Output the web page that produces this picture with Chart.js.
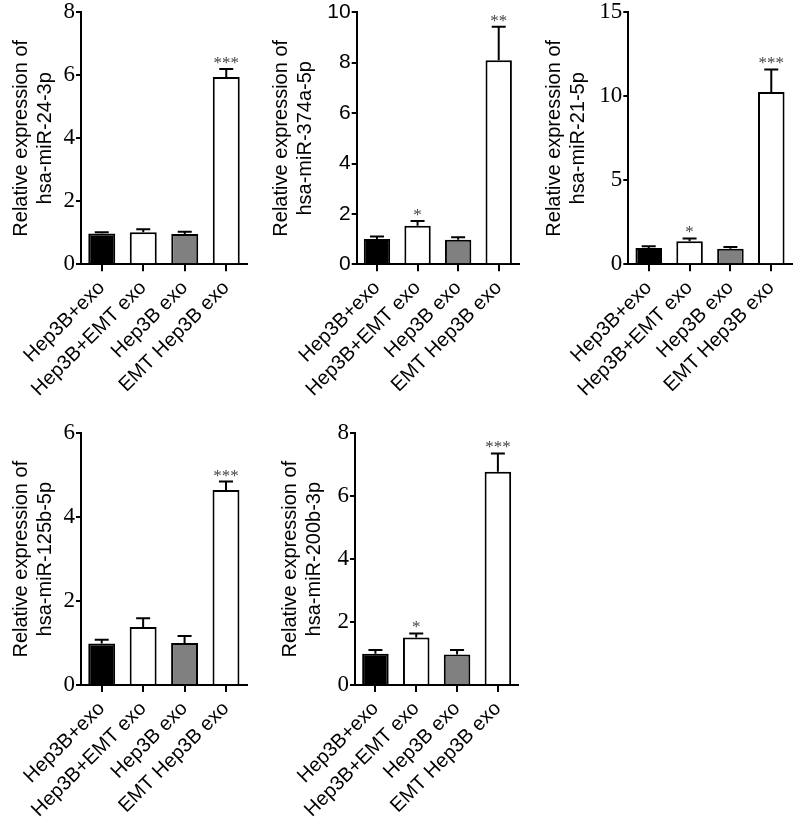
<!DOCTYPE html>
<html>
<head>
<meta charset="utf-8">
<script src="https://cdn.jsdelivr.net/npm/chart.js"></script>
<style>
  body { margin: 0; background: #fff; width: 800px; height: 829px; position: relative; overflow: hidden; }
  canvas { position: absolute; }
</style>
</head>
<body>
<canvas id="c1"></canvas>
<canvas id="c2"></canvas>
<canvas id="c3"></canvas>
<canvas id="c4"></canvas>
<canvas id="c5"></canvas>
<script>
// groups + bar fills
var groups = ["Hep3B+exo", "Hep3B+EMT exo", "Hep3B exo", "EMT Hep3B exo"];
var barColors = ["#000000", "#ffffff", "#808080", "#ffffff"];

// hsa-miR-24-3p
var mir24Mean = [0.98, 1.02, 0.96, 5.95];
var mir24Err = [0.04, 0.09, 0.07, 0.25];
var mir24Stars = ["", "", "", "***"];
var mir24Ticks = [0, 2, 4, 6, 8];

// hsa-miR-374a-5p
var mir374Mean = [1.0, 1.53, 0.97, 8.1];
var mir374Err = [0.1, 0.19, 0.1, 1.33];
var mir374Stars = ["", "*", "", "**"];
var mir374Ticks = [0, 2, 4, 6, 8, 10];

// hsa-miR-21-5p
var mir21Mean = [0.97, 1.37, 0.93, 10.26];
var mir21Err = [0.1, 0.17, 0.1, 1.34];
var mir21Stars = ["", "*", "", "***"];
var mir21Ticks = [0, 5, 10, 15];

// hsa-miR-125b-5p
var mir125Mean = [0.99, 1.38, 1.0, 4.65];
var mir125Err = [0.09, 0.21, 0.17, 0.2];
var mir125Stars = ["", "", "", "***"];
var mir125Ticks = [0, 2, 4, 6];

// hsa-miR-200b-3p
var mir200Mean = [0.99, 1.51, 0.97, 6.78];
var mir200Err = [0.12, 0.13, 0.14, 0.58];
var mir200Stars = ["", "*", "", "***"];
var mir200Ticks = [0, 2, 4, 6, 8];

// error bars (upper only) + significance marks
var errorBars = {
  id: 'errorBars',
  afterDatasetsDraw: function(chart, args, opts) {
    var ctx = chart.ctx, ys = chart.scales.y;
    var vals = chart.data.datasets[0].data;
    ctx.save();
    ctx.strokeStyle = '#000';
    ctx.lineWidth = 2;
    chart.getDatasetMeta(0).data.forEach(function(bar, i) {
      var top = ys.getPixelForValue(vals[i] + opts.err[i]);
      ctx.beginPath();
      ctx.moveTo(bar.x, bar.y);
      ctx.lineTo(bar.x, top);
      ctx.moveTo(bar.x - 7, top);
      ctx.lineTo(bar.x + 7, top);
      ctx.stroke();
      if (opts.stars[i]) {
        ctx.fillStyle = '#444';
        ctx.font = '17px "Liberation Serif"';
        ctx.textAlign = 'center';
        ctx.textBaseline = 'alphabetic';
        ctx.fillText(opts.stars[i], bar.x, top - 1);
      }
    });
    ctx.restore();
  }
};

function panel(id, box, name, mean, err, stars, ticks, tickFamily, tickSize) {
  var cv = document.getElementById(id);
  cv.width = box.w; cv.height = box.h;
  cv.style.left = box.l + 'px'; cv.style.top = box.t + 'px';
  new Chart(cv, {
    type: 'bar',
    data: {
      labels: groups,
      datasets: [{
        data: mean,
        backgroundColor: barColors,
        borderColor: '#000',
        borderWidth: 2,
        barPercentage: 0.65,
        categoryPercentage: 1
      }]
    },
    options: {
      responsive: false,
      animation: false,
      layout: { padding: { top: box.at - box.t, right: box.l + box.w - box.ar, left: 0, bottom: 0 } },
      plugins: {
        legend: { display: false },
        tooltip: { enabled: false },
        errorBars: { err: err, stars: stars }
      },
      scales: {
        x: {
          grid: { offset: false, drawOnChartArea: false, tickLength: 7, color: '#000', lineWidth: 2 },
          border: { color: '#000', width: 2 },
          ticks: {
            autoSkip: false, maxRotation: 45, minRotation: 45, color: '#000', padding: 5,
            font: { family: '"Liberation Sans"', size: 20 }
          },
          afterFit: function(s) { s.height = box.t + box.h - box.ab; }
        },
        y: {
          min: ticks[0],
          max: ticks[ticks.length - 1],
          ticks: { stepSize: ticks[1] - ticks[0], color: '#000', padding: 1,
                   font: { family: tickFamily, size: tickSize } },
          grid: { drawOnChartArea: false, tickLength: 5, color: '#000', lineWidth: 2 },
          border: { color: '#000', width: 2 },
          title: {
            display: true,
            text: ['Relative expression of', name],
            color: '#000',
            font: { family: '"Liberation Sans"', size: 20 },
            padding: { top: 9, bottom: 0 }
          },
          afterFit: function(s) { s.width = box.al - box.l; }
        }
      }
    },
    plugins: [errorBars]
  });
}

var serif = '"Liberation Serif"', sans = '"Liberation Sans"';
panel('c1', { l: 0, t: -4, w: 262, h: 420, al: 81, ar: 247, at: 12.3, ab: 264.3 },
  'hsa-miR-24-3p', mir24Mean, mir24Err, mir24Stars, mir24Ticks, serif, 23);
panel('c2', { l: 260, t: -4, w: 265, h: 420, al: 356.7, ar: 519, at: 12.3, ab: 264.3 },
  'hsa-miR-374a-5p', mir374Mean, mir374Err, mir374Stars, mir374Ticks, sans, 21);
panel('c3', { l: 533, t: -4, w: 267, h: 420, al: 628.3, ar: 791.7, at: 12.3, ab: 264.3 },
  'hsa-miR-21-5p', mir21Mean, mir21Err, mir21Stars, mir21Ticks, serif, 23);
panel('c4', { l: 0, t: 417, w: 262, h: 412, al: 81, ar: 246.7, at: 433.3, ab: 685 },
  'hsa-miR-125b-5p', mir125Mean, mir125Err, mir125Stars, mir125Ticks, serif, 23);
panel('c5', { l: 269, t: 417, w: 262, h: 412, al: 355, ar: 518.3, at: 433.3, ab: 685 },
  'hsa-miR-200b-3p', mir200Mean, mir200Err, mir200Stars, mir200Ticks, serif, 23);
</script>
</body>
</html>
